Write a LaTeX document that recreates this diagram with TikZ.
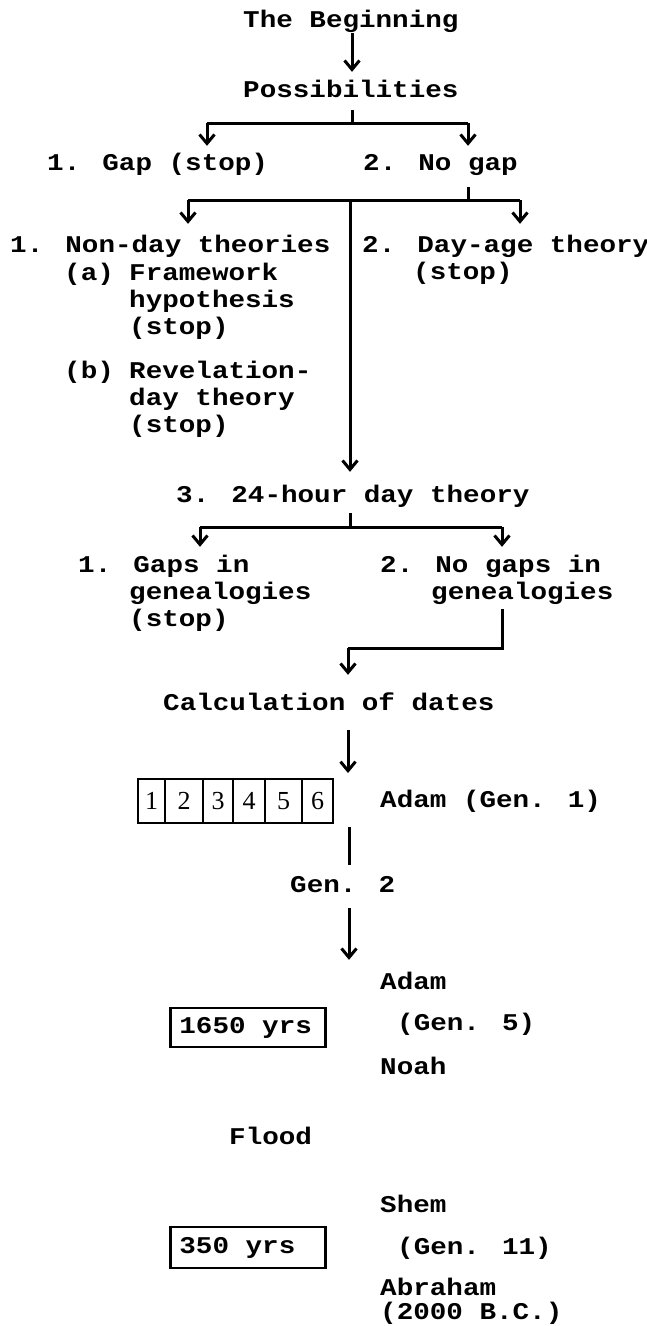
\documentclass[tikz,border=0pt]{standalone}
\usepackage{fontspec}
\newfontfamily\tw[FakeStretch=1.15]{Liberation Mono}
\newfontfamily\dg{Liberation Serif}
\usetikzlibrary{arrows.meta}
\newcommand\twf{\tw\bfseries\fontsize{24}{28}\selectfont}
\newcommand\dgf{\dg\fontsize{26}{28}\selectfont}
\tikzset{
  tx/.style={anchor=base west, inner sep=0pt, text height=16pt, text depth=5pt, font=\twf},
  ln/.style={line width=3pt},
  arr/.style={line width=3pt, -{Straight Barb[length=9pt,width=15pt]}},
  cell/.style={draw, line width=2.8pt, inner sep=0pt, minimum height=44pt, font=\dgf},
  bx/.style={draw, line width=2.8pt, inner xsep=9pt, inner ysep=0pt, text height=16pt, text depth=5pt, font=\twf},
}
\begin{document}
\begin{tikzpicture}[x=1pt,y=-1pt]
\useasboundingbox (0,0) rectangle (647,1326);
% texts
\node[tx] (beg) at (243,27) {The Beginning};
\node[tx] (poss) at (243,97) {Possibilities};
\node[tx] (gap) at (47,170) {1. Gap (stop)};
\node[tx] (nogap) at (363,170) {2. No gap};
\node[tx] (nonday) at (10,252) {1. Non-day theories};
\node[tx] (dayage) at (362,252) {2. Day-age theory};
\node[tx] (dastop) at (413,279) {(stop)};
\node[tx] (a) at (64,280) {(a)};
\node[tx] (fw1) at (129,280) {Framework};
\node[tx] (fw2) at (129,307) {hypothesis};
\node[tx] (fw3) at (129,334) {(stop)};
\node[tx] (b) at (64,378) {(b)};
\node[tx] (rv1) at (129,378) {Revelation-};
\node[tx] (rv2) at (129,405) {day theory};
\node[tx] (rv3) at (129,432) {(stop)};
\node[tx] (h24) at (176,502) {3. 24-hour day theory};
\node[tx] (gg1) at (78,572) {1. Gaps in};
\node[tx] (gg2) at (129,599) {genealogies};
\node[tx] (gg3) at (129,626) {(stop)};
\node[tx] (ng1) at (380,572) {2. No gaps in};
\node[tx] (ng2) at (431,599) {genealogies};
\node[tx] (calc) at (163,710) {Calculation of dates};
% day cells
\node[cell, minimum width=27pt] (c1) at (151.5,801) {1};
\node[cell, minimum width=38pt] (c2) at (184,801) {2};
\node[cell, minimum width=30pt] (c3) at (218,801) {3};
\node[cell, minimum width=32pt] (c4) at (249,801) {4};
\node[cell, minimum width=37pt] (c5) at (283.5,801) {5};
\node[cell, minimum width=31pt] (c6) at (317.5,801) {6};
\node[tx] (adam1) at (380,807) {Adam (Gen. 1)};
\node[tx] (gen2) at (290,892) {Gen. 2};
\node[tx] (adam5) at (380,989) {Adam};
\node[bx, minimum height=39pt, anchor=west] (y1650) at (169,1027.5) {\makebox[137pt][l]{1650 yrs}};
\node[tx] (gen5) at (397,1030) {(Gen. 5)};
\node[tx] (noah) at (380,1074) {Noah};
\node[tx] (flood) at (229,1144) {Flood};
\node[tx] (shem) at (380,1212) {Shem};
\node[bx, minimum height=41pt, anchor=west] (y350) at (169,1247.5) {\makebox[137pt][l]{350 yrs}};
\node[tx] (gen11) at (397,1254) {(Gen. 11)};
\node[tx] (abr) at (380,1295) {Abraham};
\node[tx] (bc) at (380,1319) {(2000 B.C.)};
% junctions
\coordinate (x0) at (352,0);
\coordinate (j1) at (352,123);
\coordinate (j1l) at (207,123);
\coordinate (j1r) at (468,123);
\coordinate (j2) at (468,200);
\coordinate (j2l) at (188,200);
\coordinate (j2r) at (520,200);
\coordinate (j2m) at (350,200);
\coordinate (j3) at (350,527);
\coordinate (j3l) at (200,527);
\coordinate (j3r) at (502,527);
\coordinate (j4) at (502,648);
\coordinate (j5) at (348,648);
\coordinate (k1) at (348,773);
\coordinate (x1) at (349,0);
% connectors
\draw[arr, shorten <=1pt, shorten >=9pt] (beg.south -| x0) -- (poss.north -| x0);
\draw[ln, shorten <=8pt] (poss.south -| x0) -- (j1);
\draw[ln] (j1l) -- (j1r);
\draw[arr, shorten >=8pt] (j1l) -- (j1l |- gap.north);
\draw[arr, shorten >=8pt] (j1r) -- (j1r |- nogap.north);
\draw[ln, shorten <=12pt] (nogap.south -| j2) -- (j2);
\draw[ln] (j2l) -- (j2r);
\draw[arr, shorten >=12pt] (j2l) -- (j2l |- nonday.north);
\draw[arr, shorten >=12pt] (j2r) -- (j2r |- dayage.north);
\draw[arr, shorten >=14pt] (j2m) -- (j2m |- h24.north);
\draw[ln, shorten <=6pt] (h24.south -| j3) -- (j3);
\draw[ln] (j3l) -- (j3r);
\draw[arr, shorten >=9pt] (j3l) -- (j3l |- gg1.north);
\draw[arr, shorten >=9pt] (j3r) -- (j3r |- ng1.north);
\draw[ln, shorten <=5pt] (ng2.south -| j4) -- (j4) -- (j5);
\draw[arr, shorten >=19pt] (j5) -- (j5 |- calc.north);
\draw[arr, shorten <=15pt] (calc.south -| j5) -- (k1);
\draw[ln, shorten <=3pt, shorten >=11pt] (c1.south -| x1) -- (gen2.north -| x1);
\draw[arr, shorten <=11pt, shorten >=13pt] (gen2.south -| x1) -- (adam5.north -| x1);
\end{tikzpicture}
\end{document}
